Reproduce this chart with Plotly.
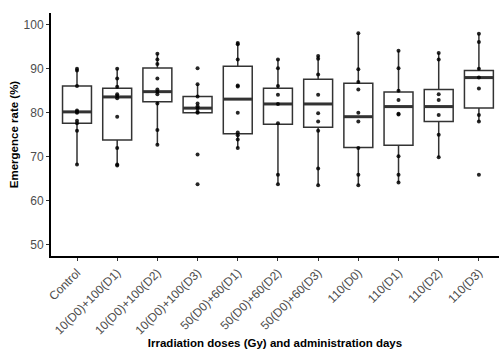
import plotly.graph_objects as go

# Treatment groups (irradiation dose in Gy, administration day)
groups = ["Control", "10(D0)+100(D1)", "10(D0)+100(D2)", "10(D0)+100(D3)",
          "50(D0)+60(D1)", "50(D0)+60(D2)", "50(D0)+60(D3)",
          "110(D0)", "110(D1)", "110(D2)", "110(D3)"]

# Box summary statistics (emergence rate, %)
q1 = [77.6, 73.8, 82.5, 80.0, 75.2, 77.4, 76.7, 72.1, 72.6, 78.0, 81.1]
median = [80.2, 83.6, 84.8, 81.05, 83.1, 82.0, 82.0, 79.1, 81.4, 81.4, 88.0]
q3 = [86.1, 85.6, 90.2, 83.7, 90.6, 85.6, 87.6, 86.7, 84.7, 85.3, 89.6]
lower_whisker = [68.2, 68.0, 72.7, 80.0, 72.0, 63.7, 63.5, 63.5, 64.1, 69.9, 78.0]
upper_whisker = [90.0, 90.0, 93.4, 86.5, 95.9, 92.1, 92.9, 98.1, 94.1, 93.6, 98.0]

# Individual replicate observations per group
obs_control = [90.0, 89.6, 86.1, 80.5, 80.2, 80.0, 78.2, 77.6, 75.9, 68.2]
obs_10_100_d1 = [90.0, 87.8, 85.9, 84.2, 83.8, 83.3, 79.1, 72.0, 68.2, 68.0]
obs_10_100_d2 = [93.4, 92.1, 91.1, 87.8, 85.3, 84.8, 84.2, 82.1, 76.1, 72.7]
obs_10_100_d3 = [90.1, 86.5, 83.7, 82.1, 81.5, 81.0, 80.2, 80.0, 70.5, 63.7]
obs_50_60_d1 = [95.9, 95.6, 92.1, 86.2, 86.0, 80.0, 75.5, 74.9, 73.9, 72.0]
obs_50_60_d2 = [92.1, 90.1, 86.1, 84.1, 82.0, 77.6, 65.9, 63.7]
obs_50_60_d3 = [92.9, 92.3, 88.7, 84.1, 79.9, 78.0, 75.9, 67.3, 63.5]
obs_110_d0 = [98.1, 89.9, 87.0, 85.3, 80.0, 78.0, 72.0, 65.9, 63.5]
obs_110_d1 = [94.1, 90.1, 85.0, 82.9, 79.8, 79.6, 70.1, 65.9, 64.1]
obs_110_d2 = [93.6, 92.1, 84.2, 82.9, 79.5, 75.0, 69.9]
obs_110_d3 = [98.0, 96.1, 90.0, 88.0, 85.5, 79.5, 78.0, 65.9]

observations = [obs_control, obs_10_100_d1, obs_10_100_d2, obs_10_100_d3,
                obs_50_60_d1, obs_50_60_d2, obs_50_60_d3,
                obs_110_d0, obs_110_d1, obs_110_d2, obs_110_d3]

y_ticks = [50, 60, 70, 80, 90, 100]

pos = list(range(len(groups)))
box_w = 0.72
line_col = "#333333"

fig = go.Figure()

fig.add_trace(go.Box(
    x=pos, q1=q1, median=median, q3=q3,
    lowerfence=lower_whisker, upperfence=upper_whisker,
    width=box_w, whiskerwidth=0,
    fillcolor="white", line=dict(color=line_col, width=1.5),
    boxpoints=False, hoverinfo="skip", showlegend=False,
))

# thicker median bars
mx, my = [], []
for i, m in zip(pos, median):
    mx += [i - box_w / 2, i + box_w / 2, None]
    my += [m, m, None]
fig.add_trace(go.Scatter(
    x=mx, y=my, mode="lines", line=dict(color=line_col, width=3),
    hoverinfo="skip", showlegend=False,
))

px, py = [], []
for i, vals in zip(pos, observations):
    px += [i] * len(vals)
    py += vals
fig.add_trace(go.Scatter(
    x=px, y=py, mode="markers",
    marker=dict(color="black", size=4, opacity=0.85),
    showlegend=False,
))

tick_font = dict(family="Liberation Sans, Arial, sans-serif", size=12, color="#4d4d4d")
title_font = dict(family="Liberation Sans, Arial, sans-serif", size=11.5, color="black")

fig.update_layout(
    width=499, height=349,
    margin=dict(l=51, r=0, t=13, b=91),
    paper_bgcolor="white", plot_bgcolor="white",
    xaxis=dict(
        range=[-0.647, 10.5], tickmode="array", tickvals=pos, ticktext=groups,
        tickangle=-45, tickfont=tick_font,
        showline=True, linecolor="black", linewidth=2,
        ticks="outside", ticklen=3, tickcolor=line_col, tickwidth=1,
        showgrid=False, zeroline=False,
        title=dict(text="<b>Irradiation doses (Gy) and administration days</b>",
                   font=title_font, standoff=4),
    ),
    yaxis=dict(
        range=[47.4, 102.7], tickvals=y_ticks, tickfont=tick_font,
        showline=True, linecolor="black", linewidth=2,
        ticks="outside", ticklen=3, tickcolor=line_col, tickwidth=1,
        showgrid=False, zeroline=False,
        title=dict(text="<b>Emergence rate (%)</b>", font=title_font, standoff=3),
    ),
)

fig.write_html("out.html")
